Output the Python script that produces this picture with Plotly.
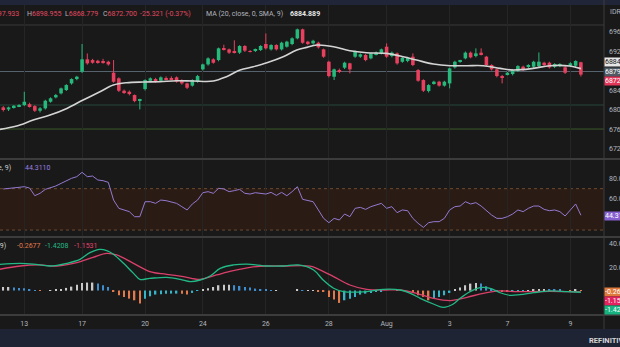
import plotly.graph_objects as go

W, H = 620, 347

# ---------------- data ----------------
opens = [6805.4, 6801.3, 6805.4, 6808.2, 6810.2, 6812.0, 6808.0, 6798.6, 6803.4, 6817.0,
         6826.0, 6834.2, 6841.0, 6854.6, 6863.5, 6878.6, 6904.0, 6902.5, 6901.0, 6899.0,
         6899.0, 6876.5, 6865.0, 6839.6, 6837.5, 6830.7, 6819.0, 6843.0, 6860.0, 6863.5,
         6860.0, 6865.0, 6865.0, 6867.0, 6861.5, 6854.6, 6850.0, 6858.0, 6883.4, 6893.6,
         6904.0, 6902.5, 6926.5, 6924.4, 6919.6, 6917.6, 6931.3, 6921.0, 6921.7, 6923.0,
         6935.4, 6924.4, 6933.3, 6924.4, 6929.9, 6935.4, 6947.0, 6965.5, 6940.2, 6936.7,
         6938.0, 6924.4, 6899.0, 6868.3, 6882.0, 6886.8, 6895.7, 6909.4, 6909.4, 6912.8,
         6906.0, 6914.2, 6916.2, 6929.9, 6910.7, 6916.2, 6899.0, 6900.5, 6909.4, 6882.0,
         6861.5, 6838.9, 6854.6, 6858.1, 6850.0, 6854.6, 6887.5, 6899.5, 6906.0, 6917.6,
         6910.7, 6917.6, 6909.4, 6892.3, 6883.4, 6869.7, 6873.8, 6873.8, 6880.6, 6888.8,
         6888.8, 6888.8, 6890.2, 6897.0, 6897.0, 6888.8, 6890.2, 6887.5, 6890.9, 6890.9,
         6897.933]
closes = [6800.0, 6805.4, 6808.8, 6810.2, 6817.0, 6808.0, 6798.6, 6803.4, 6819.0, 6824.0,
          6830.7, 6844.4, 6851.2, 6863.5, 6868.3, 6904.0, 6895.7, 6897.0, 6897.0, 6897.5,
          6893.6, 6858.0, 6839.6, 6835.5, 6832.8, 6818.4, 6821.5, 6861.5, 6865.0, 6858.0,
          6867.0, 6863.0, 6863.0, 6858.0, 6854.6, 6845.7, 6861.5, 6869.7, 6893.6, 6906.0,
          6897.0, 6926.5, 6924.4, 6917.6, 6918.5, 6931.3, 6921.7, 6920.0, 6924.4, 6931.3,
          6926.5, 6933.3, 6924.4, 6938.0, 6940.2, 6947.0, 6965.5, 6938.0, 6935.4, 6942.0,
          6928.5, 6909.4, 6869.7, 6883.4, 6878.6, 6897.0, 6883.4, 6919.6, 6914.2, 6902.5,
          6916.2, 6917.6, 6924.4, 6909.4, 6917.6, 6895.7, 6907.0, 6907.0, 6892.3, 6860.1,
          6839.6, 6851.2, 6858.1, 6850.0, 6858.1, 6885.4, 6899.0, 6901.2, 6917.6, 6908.0,
          6916.2, 6914.8, 6892.3, 6883.4, 6869.7, 6866.3, 6876.5, 6882.0, 6890.2, 6882.0,
          6892.3, 6899.0, 6899.1, 6892.3, 6887.5, 6894.3, 6894.3, 6876.5, 6895.8, 6900.5,
          6872.700]
highs = [6808, 6807, 6810, 6812, 6837.5, 6815, 6810, 6806, 6821, 6826,
         6833, 6846, 6853, 6865, 6870, 6935.4, 6916, 6905, 6903, 6905,
         6901, 6902.5, 6867, 6842, 6840, 6832, 6823, 6863, 6867, 6866,
         6869, 6869, 6869, 6869, 6863, 6856, 6863, 6872, 6895, 6908,
         6906, 6928, 6934, 6926, 6943, 6933, 6933, 6923, 6926, 6933,
         6957, 6935, 6935, 6940, 6942, 6949, 6967, 6967, 6942, 6944,
         6940, 6926, 6901, 6885, 6885, 6899, 6897, 6922, 6916, 6915,
         6918, 6920, 6926, 6936.7, 6920, 6918, 6909, 6909, 6916.2, 6884,
         6863, 6853, 6860, 6860, 6860, 6887, 6901, 6903, 6920, 6920,
         6926.5, 6926.5, 6911, 6894, 6885, 6872, 6878, 6884, 6892, 6891,
         6894, 6901, 6918, 6899, 6899, 6896, 6896, 6890, 6898, 6902,
         6898.955]
lows = [6797, 6798, 6803, 6806, 6808, 6805, 6796, 6795, 6801, 6815,
        6824, 6832, 6839, 6852, 6861, 6876, 6893, 6895, 6895, 6895,
        6891, 6856, 6837, 6833, 6830, 6816, 6801.3, 6840, 6858, 6856,
        6858, 6861, 6861, 6856, 6852, 6843, 6848, 6856, 6881, 6891,
        6895, 6900, 6922, 6915, 6916, 6915, 6919, 6918, 6919, 6921,
        6924, 6922, 6922, 6922, 6928, 6933, 6945, 6936, 6933, 6934,
        6926, 6907, 6867, 6861.5, 6876, 6884, 6875.2, 6907, 6907, 6900,
        6904, 6912, 6914, 6907, 6908, 6893, 6897, 6898, 6890, 6858,
        6837, 6836, 6852, 6848, 6848, 6844.4, 6885, 6897, 6904, 6906,
        6908, 6912, 6890, 6881, 6867, 6854.6, 6871, 6871, 6878, 6880,
        6886, 6886, 6888, 6890, 6885, 6886, 6888, 6874, 6888, 6888,
        6868.779]

ma_x = [-0.63, 2.55, 5.7, 8.9, 12.1, 15.2, 18.4, 20.95, 23.5, 26.7, 29.8, 33.0, 36.2, 40.0,
        42.5, 45.1, 47.6, 50.2, 53.3, 55.9, 57.8, 59.7, 62.9, 66.0, 69.2, 73.0, 75.6, 78.7,
        81.9, 85.1, 88.3, 91.4, 94.6, 97.1, 100.9, 104.1, 107.9, 110]
ma_v = [6760.2, 6767.1, 6779.4, 6789.7, 6803.3, 6820.5, 6837.5, 6851.2, 6856.0, 6857.4,
        6858.1, 6860.1, 6859.4, 6859.4, 6868.3, 6882.0, 6888.8, 6897.0, 6909.4, 6923.0,
        6928.5, 6933.3, 6929.9, 6921.7, 6917.6, 6916.2, 6910.7, 6902.5, 6894.3, 6890.9,
        6890.9, 6890.9, 6885.4, 6882.0, 6885.4, 6890.9, 6890.2, 6884.889]

rsi = [69.7, 70.0, 70.6, 71.3, 71.9, 70.6, 63.2, 65.5, 69.3, 71.0,
       72.6, 75.1, 77.7, 80.0, 81.6, 85.8, 81.6, 82.2, 78.4, 77.7,
       76.1, 59.0, 51.0, 49.4, 47.8, 42.9, 42.9, 57.4, 57.4, 55.8,
       59.0, 58.4, 57.1, 55.8, 52.6, 49.4, 55.2, 59.0, 66.1, 67.1,
       65.5, 70.3, 69.7, 67.1, 68.1, 69.3, 65.5, 64.8, 66.1, 65.5,
       64.8, 66.4, 63.5, 66.4, 63.2, 67.1, 71.9, 59.7, 58.4, 57.4,
       49.4, 41.3, 37.1, 41.3, 39.7, 45.5, 42.9, 51.0, 51.9, 50.0,
       52.6, 54.2, 55.8, 51.0, 52.6, 46.8, 49.4, 48.7, 41.3, 36.5,
       32.6, 37.1, 38.1, 38.1, 41.3, 49.4, 52.6, 53.2, 57.4, 55.2,
       56.5, 53.2, 48.7, 44.5, 41.3, 41.3, 42.9, 45.5, 49.4, 47.8,
       51.0, 53.2, 53.2, 50.0, 48.7, 49.4, 47.8, 43.6, 49.4, 55.2,
       44.311]

hist = [3.1, 3.1, 2.6, 2.3, 2.0, 1.1, 0.3, -0.3, 0.0, 0.1,
        0.9, 1.1, 2.3, 3.4, 5.1, 6.6, 6.9, 6.9, 6.0, 4.6,
        3.1, -0.6, -4.0, -5.4, -6.9, -8.3, -11.1, -6.9, -4.9, -3.4,
        -3.1, -2.6, -2.6, -2.6, -2.8, -3.4, -2.0, -0.3, 0.9, 2.0,
        3.1, 4.6, 5.1, 5.1, 4.6, 4.0, 3.1, 2.6, 1.7, 1.1,
        0.6, 0.3, 0.3, 0.0, 0.0, 0.0, 0.9, 0.3, 0.3, 0.3,
        -0.6, -1.1, -5.4, -7.7, -10.6, -8.3, -6.9, -5.4, -3.4, -2.6,
        -2.0, -1.1, -0.6, 0.0, 0.0, -0.3, 0.0, 0.0, -1.1, -4.0,
        -5.4, -8.3, -6.9, -5.4, -4.0, -2.0, 0.9, 2.6, 4.6, 6.0,
        6.6, 6.0, 3.7, 1.7, 0.3, -0.6, -1.1, -0.9, -0.6, -0.3,
        0.3, 0.9, 1.4, 1.4, 1.1, 0.9, 0.6, 0.0, -0.3, 0.6,
        -0.2677]

macd_x = [-0.63, 3.2, 5.7, 8.9, 12.1, 14.6, 16.5, 18.4, 19.7, 20.9, 22.9, 24.8, 26.0, 27.9,
          31.1, 33.7, 35.6, 37.5, 39.4, 41.3, 43.8, 46.4, 50.2, 53.3, 56.2, 59.1, 60.9, 62.9,
          64.8, 69.2, 72.4, 75.6, 77.5, 79.4, 81.9, 83.8, 85.7, 87.0, 88.9, 90.8, 92.7, 94.6,
          96.5, 98.4, 101.0, 104.1, 107.3, 110]
macd_v = [22.5, 23.4, 22.8, 21.1, 23.4, 26.8, 32.6, 35.4, 34.3, 31.4, 23.4, 14.8, 9.7, 10.5,
          11.4, 9.7, 7.7, 9.1, 12.5, 19.1, 22.0, 22.8, 21.1, 21.1, 22.0, 17.7, 9.1, 2.0,
          -0.9, -0.9, 1.1, 0.5, -2.3, -6.6, -11.5, -14.4, -11.5, -6.6, -0.9, 2.5, 2.0, -1.8,
          -4.1, -3.5, -1.8, -0.3, -0.9, -1.4208]
signal_x = [-0.63, 3.2, 7.0, 10.2, 14.0, 17.1, 19.7, 21.6, 24.8, 27.9, 31.1, 34.3, 37.5, 40.6,
            43.8, 47.0, 50.2, 53.3, 58.4, 59.7, 62.9, 66.0, 69.2, 72.4, 75.6, 78.7, 81.9, 85.1,
            88.3, 91.4, 94.6, 97.8, 101.0, 104.1, 107.3, 110]
signal_v = [18.3, 21.1, 22.0, 21.1, 24.0, 28.6, 32.0, 30.6, 23.4, 16.3, 14.0, 12.0, 9.7, 13.4,
            17.1, 20.0, 21.1, 21.1, 21.1, 19.1, 12.0, 4.8, 1.1, 0.5, 0.5, -2.3, -6.6, -8.6,
            -5.8, -2.3, -0.3, -0.9, -0.9, -0.6, -0.9, -1.1531]

tick_idx = [4, 15, 27, 38, 50, 62, 73, 85, 96, 108]
tick_labels = ["13", "17", "20", "24", "26", "28", "Aug", "3", "7", "9"]

price_ticks = [6720, 6760, 6800, 6840, 6920, 6960]
rsi_ticks = [60, 80]
macd_ticks = [20, 40]

levels = [6974.4, 6879.0, 6810.3, 6761.0]
level_colors = ["#3a3a3a", "#56636f", "#27473a", "#3b5a2a"]

header_prev = 6898.021

# ---------------- helpers ----------------
def py(y):
    return 1 - y / H

def pxx(x):
    return x / W

BG = "#191919"
UP = "#27b97c"
DN = "#e8405e"
TXT = "#b2b5be"
FONT = "Roboto"

n = len(closes)
idx = list(range(n))

fig = go.Figure()

# wicks
for want_up, col in [(True, UP), (False, DN)]:
    wx, wy = [], []
    for i in idx:
        if (closes[i] >= opens[i]) == want_up:
            wx += [i, i, None]
            wy += [lows[i], highs[i], None]
    fig.add_trace(go.Scatter(x=wx, y=wy, mode="lines", line=dict(color=col, width=1),
                             hoverinfo="skip", showlegend=False, yaxis="y"))

# bodies
body_base = [min(o, c) for o, c in zip(opens, closes)]
body_h = [max(abs(c - o), 0.8) for o, c in zip(opens, closes)]
body_col = [UP if c >= o else DN for o, c in zip(opens, closes)]
fig.add_trace(go.Bar(x=idx, y=body_h, base=body_base, width=0.68,
                     marker=dict(color=body_col, line=dict(width=0)),
                     showlegend=False, yaxis="y"))

# MA
fig.add_trace(go.Scatter(x=ma_x, y=ma_v, mode="lines",
                         line=dict(color="#d4d4d4", width=1.6, shape="spline"),
                         showlegend=False, yaxis="y"))

# RSI
fig.add_trace(go.Scatter(x=idx, y=rsi, mode="lines",
                         line=dict(color="#9479d0", width=1),
                         showlegend=False, yaxis="y2"))

# MACD histogram colours by rule
hcol = []
for i, h in enumerate(hist):
    prev = hist[i - 1] if i > 0 else h
    if h >= 0:
        hcol.append("#c9c9c9" if h >= prev else "#3f8fd0")
    else:
        hcol.append("#e07a4c" if h < prev else "#38b4c9")
fig.add_trace(go.Bar(x=idx, y=hist, width=0.28, marker=dict(color=hcol, line=dict(width=0)),
                     showlegend=False, yaxis="y3"))
fig.add_trace(go.Scatter(x=signal_x, y=signal_v, mode="lines",
                         line=dict(color="#d9406a", width=1.3, shape="spline"),
                         showlegend=False, yaxis="y3"))
fig.add_trace(go.Scatter(x=macd_x, y=macd_v, mode="lines",
                         line=dict(color="#22b987", width=1.3, shape="spline"),
                         showlegend=False, yaxis="y3"))

x_right = 604 / W
axis_common = dict(side="right", anchor="x", showgrid=False, zeroline=False,
                   ticks="", ticklabelstandoff=4, showline=False, automargin=False,
                   tickfont=dict(family=FONT, size=7, color=TXT))

fig.update_layout(
    width=W, height=H, margin=dict(l=0, r=0, t=0, b=0, autoexpand=False),
    paper_bgcolor=BG, plot_bgcolor=BG, barmode="overlay", showlegend=False,
    font=dict(family=FONT),
    xaxis=dict(domain=[0, x_right], range=[-0.63, 114.4], anchor="y3",
               tickvals=tick_idx, ticktext=tick_labels, ticks="", automargin=False,
               ticklabelstandoff=4, showgrid=True, gridcolor="#252525", gridwidth=1,
               zeroline=False, showline=False,
               tickfont=dict(family=FONT, size=7, color=TXT)),
    yaxis=dict(domain=[py(158), py(5)], range=[6701.6, 7015.4],
               tickvals=price_ticks, ticktext=[f"{v:.3f}" for v in price_ticks], **axis_common),
    yaxis2=dict(domain=[py(236), py(160)], range=[24.25, 97.7],
                tickvals=rsi_ticks, ticktext=[f"{v:.4f}" for v in rsi_ticks], **axis_common),
    yaxis3=dict(domain=[py(314), py(238)], range=[-20.09, 45.15],
                tickvals=macd_ticks, ticktext=[f"{v:.4f}" for v in macd_ticks], **axis_common),
)

shapes = []
# strips
shapes.append(dict(type="rect", xref="paper", yref="paper", x0=0, x1=1, y0=py(5), y1=1,
                   fillcolor="#202638", line=dict(width=0), layer="below"))
shapes.append(dict(type="rect", xref="paper", yref="paper", x0=0, x1=1, y0=0, y1=py(329),
                   fillcolor="#1f2435", line=dict(width=0), layer="below"))
# RSI band
shapes.append(dict(type="rect", xref="x domain", yref="y2", x0=0, x1=1, y0=30, y1=70,
                   fillcolor="#2a1c15", line=dict(width=0), layer="below"))
for lv in (70, 30):
    shapes.append(dict(type="line", xref="x domain", yref="y2", x0=0, x1=1, y0=lv, y1=lv,
                       line=dict(color="#6e4a30", width=1, dash="dot"), layer="below"))
# price levels
for lv, c in zip(levels, level_colors):
    shapes.append(dict(type="line", xref="x domain", yref="y", x0=0, x1=1, y0=lv, y1=lv,
                       line=dict(color=c, width=1), layer="below"))
# separators
for yy in (159, 237, 315):
    shapes.append(dict(type="line", xref="paper", yref="paper", x0=0, x1=1,
                       y0=py(yy), y1=py(yy), line=dict(color="#3c3c3c", width=2)))
shapes.append(dict(type="line", xref="paper", yref="paper", x0=x_right, x1=x_right,
                   y0=py(329), y1=1, line=dict(color="#3c3c3c", width=1)))
fig.update_layout(shapes=shapes)

ann = []
def txt(x, y, text, color, anchor="left", size=7, bold=False):
    ann.append(dict(xref="paper", yref="paper", x=pxx(x), y=py(y), text=(f"<b>{text}</b>" if bold else text),
                    showarrow=False, xanchor=anchor, yanchor="middle",
                    font=dict(family=FONT, size=size, color=color)))

HR = "#e04a62"
chg = closes[-1] - header_prev
txt(21, 14, f'<span style="color:{TXT}">O</span>{opens[-1]:.3f}', HR, anchor="right")
txt(25, 14, f'<span style="color:{TXT}">H</span>{highs[-1]:.3f}', HR)
txt(63, 14, f'<span style="color:{TXT}">L</span>{lows[-1]:.3f}', HR)
txt(101, 14, f'<span style="color:{TXT}">C</span>{closes[-1]:.3f}', HR)
txt(138, 14, f"{chg:.3f} ({chg / header_prev * 100:.2f}%)", HR)
txt(204, 14, "MA (20, close, 0, SMA, 9)", TXT)
txt(288, 14, f"{ma_v[-1]:.3f}", "#e8e8e8", bold=True)
txt(608, 12, "IDR", TXT)

txt(13, 168, "RSI (14, close, Simple, 9)", "#d0d0d0", anchor="right")
txt(23, 168, f"{rsi[-1]:.4f}", "#9b80e0")

txt(8, 246, "MACD (12, 26, close, 9)", "#d0d0d0", anchor="right")
txt(15, 246, f"{hist[-1]:.4f}", "#e07a4c")
txt(43, 246, f"{macd_v[-1]:.4f}", "#22b987")
txt(72, 246, f"{signal_v[-1]:.4f}", "#e0446a")

txt(587, 340, "REFINITIV", "#d6d6d6", size=7.5, bold=True)

def box(y, text, bg, fg="#ffffff"):
    ann.append(dict(xref="paper", yref="paper", x=x_right, y=py(y), text=text,
                    showarrow=False, xanchor="left", yanchor="middle", align="left",
                    width=40, height=8, bgcolor=bg, borderpad=0,
                    font=dict(family=FONT, size=7, color=fg)))

box(62, f"{ma_v[-1]:.3f}", "#e6e6e6", "#151515")
box(72, f"{levels[1]:.3f}", "#505a64")
box(81, f"{closes[-1]:.3f}", "#e2365a")
box(216, f"{rsi[-1]:.4f}", "#8760d0")
box(292, f"{hist[-1]:.4f}", "#df7a3c")
box(301, f"{signal_v[-1]:.4f}", "#e3225f")
box(310, f"{macd_v[-1]:.4f}", "#16b27f")

fig.update_layout(annotations=ann)
fig.write_html("out.html")
